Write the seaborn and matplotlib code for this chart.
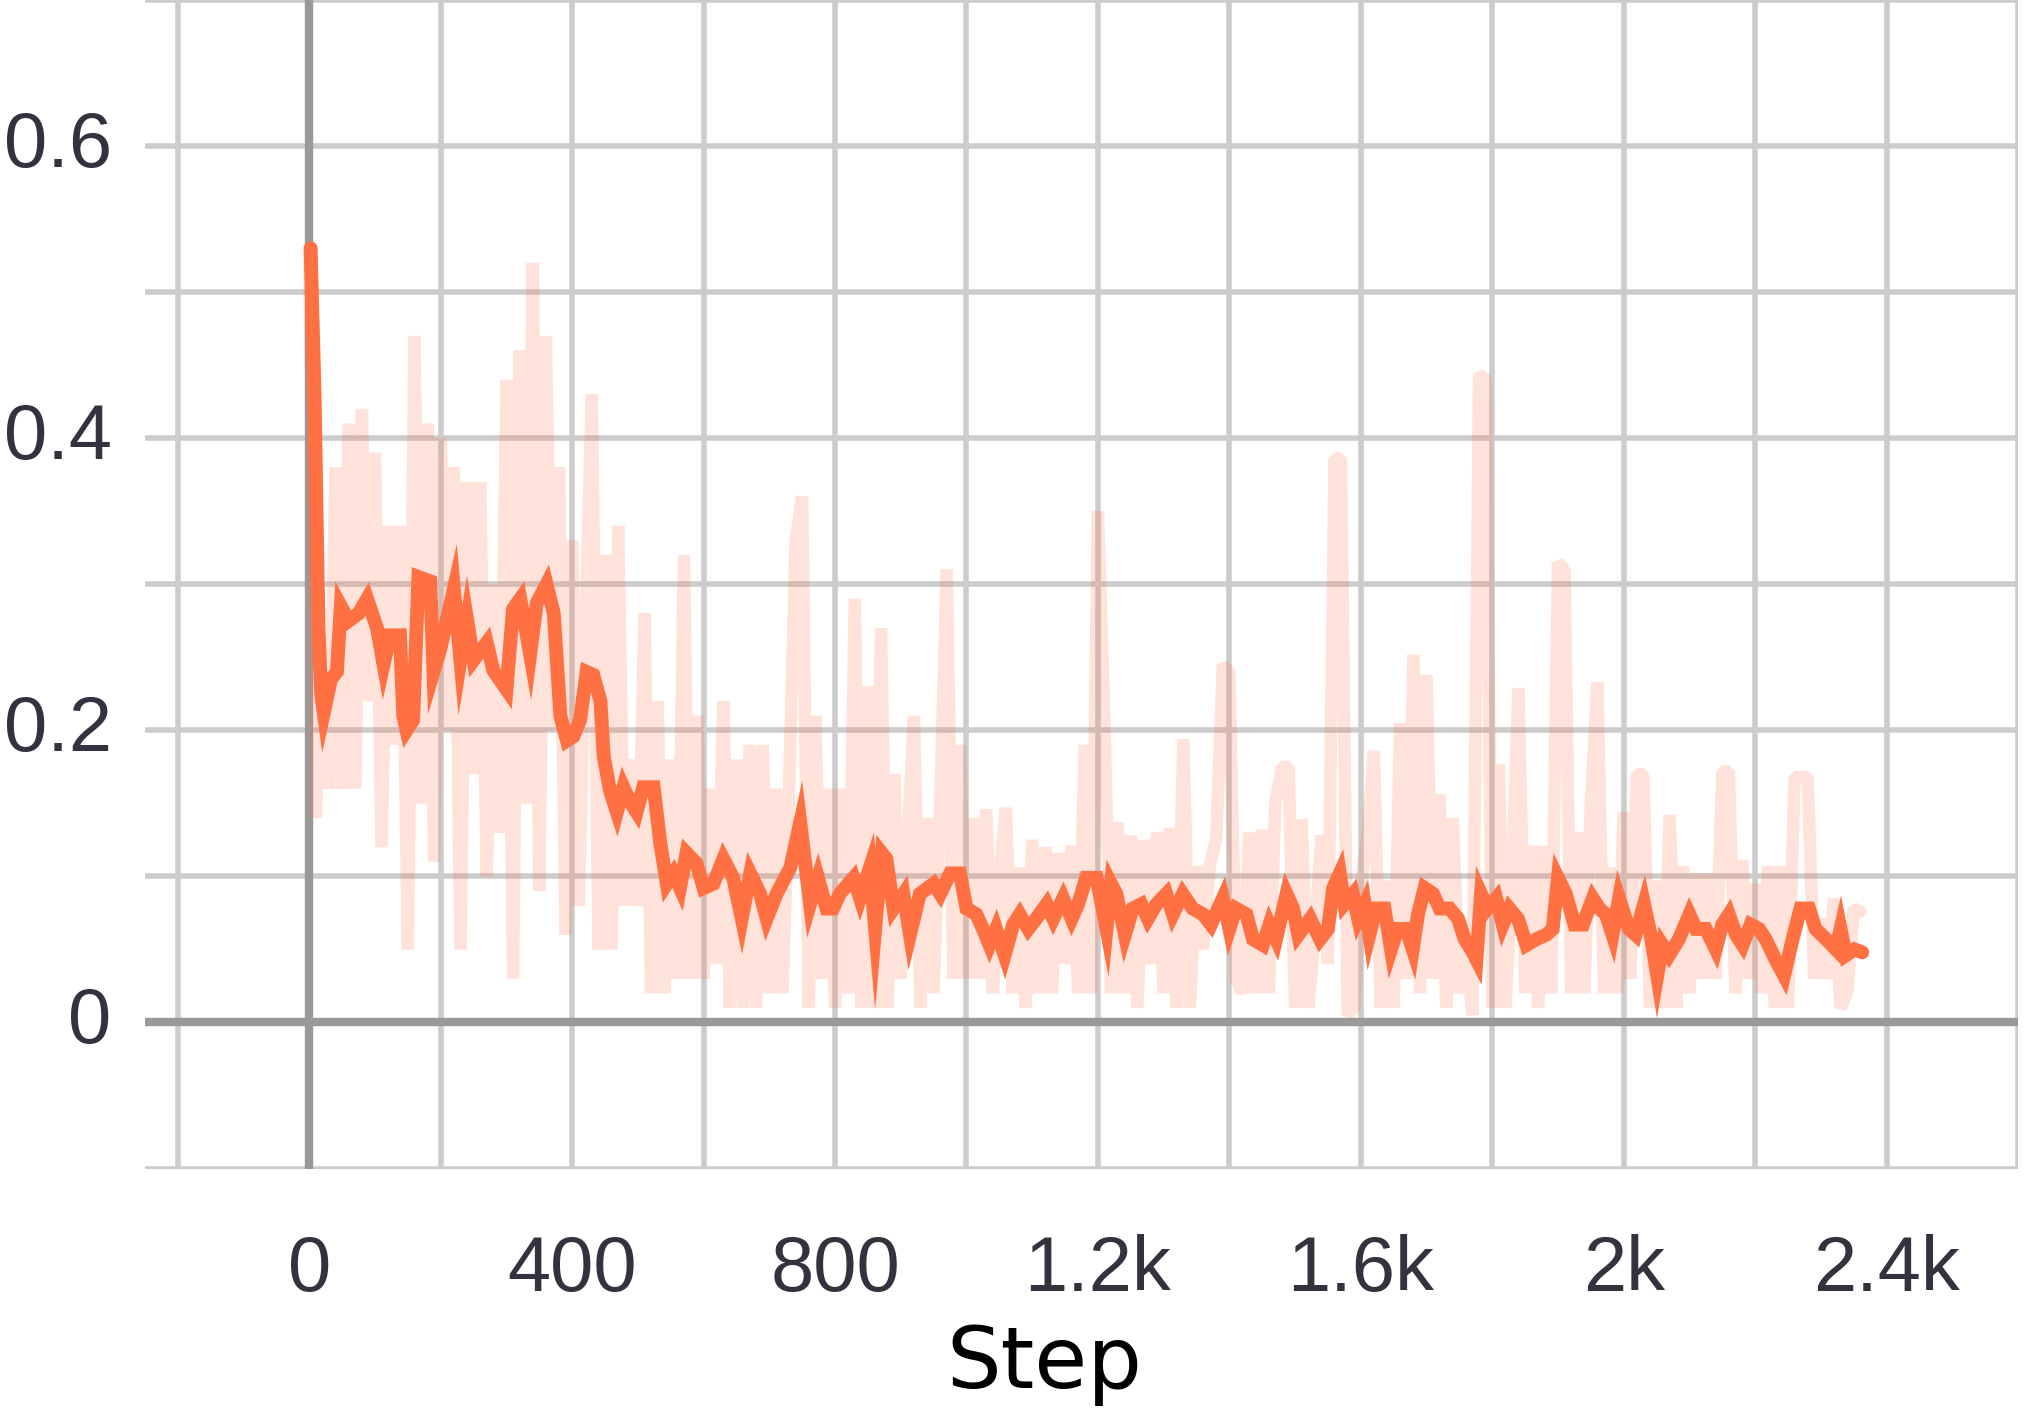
import numpy as np
import matplotlib
matplotlib.use("Agg")
import matplotlib.pyplot as plt
import seaborn as sns

# ---------------- data ----------------
raw_steps = list(range(0, 2370, 10))
raw_values = [
    0.53, 0.14, 0.26, 0.16, 0.38, 0.16, 0.41, 0.16, 0.42, 0.22,   # 0-90
    0.39, 0.12, 0.34, 0.19, 0.34, 0.05, 0.47, 0.15, 0.41, 0.11,   # 100-190
    0.40, 0.20, 0.38, 0.05, 0.37, 0.17, 0.37, 0.10, 0.30, 0.13,   # 200-290
    0.44, 0.03, 0.46, 0.15, 0.52, 0.09, 0.47, 0.20, 0.38, 0.06,   # 300-390
    0.33, 0.08, 0.27, 0.43, 0.05, 0.32, 0.05, 0.34, 0.08, 0.18,   # 400-490
    0.08, 0.28, 0.02, 0.22, 0.02, 0.18, 0.03, 0.32, 0.03, 0.21,   # 500-590
    0.03, 0.16, 0.04, 0.22, 0.01, 0.18, 0.01, 0.19, 0.01, 0.19,   # 600-690
    0.02, 0.16, 0.02, 0.16, 0.33, 0.36, 0.01, 0.21, 0.03, 0.16,   # 700-790
    0.01, 0.16, 0.02, 0.29, 0.01, 0.23, 0.01, 0.27, 0.01, 0.17,   # 800-890
    0.03, 0.12, 0.21, 0.01, 0.14, 0.02, 0.15, 0.31, 0.03, 0.19,   # 900-990
    0.03, 0.14, 0.03, 0.146, 0.02, 0.10, 0.147, 0.02, 0.106, 0.01,  # 1000-1090
    0.125, 0.02, 0.12, 0.02, 0.116, 0.04, 0.121, 0.02, 0.19, 0.02,  # 1100-1190
    0.35, 0.205, 0.02, 0.137, 0.02, 0.128, 0.01, 0.125, 0.04, 0.13,  # 1200-1290
    0.02, 0.133, 0.01, 0.194, 0.01, 0.107, 0.05, 0.107, 0.126, 0.245,  # 1300-1390
    0.24, 0.03, 0.02, 0.13, 0.02, 0.132, 0.02, 0.15, 0.175, 0.175,  # 1400-1490
    0.01, 0.139, 0.01, 0.06, 0.128, 0.04, 0.386, 0.386, 0.005, 0.01,  # 1500-1590
    0.092, 0.128, 0.186, 0.01, 0.097, 0.01, 0.205, 0.03, 0.252, 0.02,  # 1600-1690
    0.238, 0.03, 0.156, 0.01, 0.14, 0.02, 0.05, 0.005, 0.444, 0.44,  # 1700-1790
    0.01, 0.177, 0.01, 0.095, 0.229, 0.02, 0.121, 0.01, 0.121, 0.02,  # 1800-1890
    0.315, 0.31, 0.02, 0.13, 0.02, 0.149, 0.233, 0.02, 0.106, 0.02,  # 1900-1990
    0.144, 0.03, 0.17, 0.17, 0.01, 0.097, 0.01, 0.142, 0.01, 0.107,  # 2000-2090
    0.02, 0.102, 0.03, 0.102, 0.03, 0.172, 0.172, 0.02, 0.111, 0.03,  # 2100-2190
    0.095, 0.02, 0.107, 0.01, 0.107, 0.01, 0.168, 0.168, 0.168, 0.03,  # 2200-2290
    0.071, 0.03, 0.085, 0.01, 0.02, 0.078, 0.076,                     # 2300-2360
]

smooth_steps = [
    2, 8, 14, 18, 22, 33, 42, 48, 60, 75, 88, 103, 113, 123, 138, 143, 148, 158,
    166, 184, 189, 199, 220, 230, 240, 250, 270, 280, 300, 310, 321, 336, 346,
    361, 372, 382, 392, 402, 412, 422, 432, 443, 448, 458, 468, 478, 488, 498,
    508, 524, 534, 544, 554, 564, 574, 589, 600, 615, 630, 645, 658, 671, 686,
    696, 711, 732, 747, 762, 774, 787, 797, 807, 828, 838, 853, 861, 871, 878,
    889, 904, 914, 929, 950, 960, 975, 990, 1000, 1015, 1025, 1035, 1045, 1058,
    1071, 1081, 1094, 1106, 1122, 1132, 1147, 1160, 1170, 1182, 1198, 1213,
    1220, 1228, 1241, 1253, 1266, 1276, 1289, 1304, 1314, 1329, 1344, 1360,
    1372, 1390, 1400, 1410, 1426, 1436, 1451, 1461, 1471, 1487, 1497, 1505,
    1523, 1538, 1550, 1558, 1568, 1575, 1588, 1596, 1606, 1613, 1623, 1636,
    1646, 1656, 1669, 1679, 1687, 1697, 1710, 1720, 1735, 1748, 1758, 1768,
    1776, 1783, 1793, 1806, 1816, 1826, 1839, 1852, 1867, 1882, 1892, 1900,
    1912, 1925, 1938, 1953, 1963, 1973, 1983, 1993, 2008, 2018, 2031, 2041,
    2051, 2059, 2069, 2084, 2100, 2110, 2125, 2140, 2150, 2160, 2171, 2181,
    2193, 2206, 2216, 2231, 2244, 2257, 2269, 2282, 2292, 2308, 2323, 2330,
    2338, 2351, 2363,
]
smooth_values = [
    0.53, 0.43, 0.27, 0.225, 0.212, 0.235, 0.24, 0.285, 0.275, 0.28, 0.29, 0.27,
    0.245, 0.265, 0.265, 0.21, 0.2, 0.207, 0.305, 0.302, 0.24, 0.255, 0.297,
    0.248, 0.276, 0.248, 0.26, 0.241, 0.228, 0.283, 0.29, 0.252, 0.287, 0.30,
    0.28, 0.21, 0.193, 0.196, 0.207, 0.24, 0.238, 0.22, 0.182, 0.158, 0.144,
    0.161, 0.151, 0.144, 0.161, 0.161, 0.123, 0.095, 0.102, 0.092, 0.116,
    0.109, 0.092, 0.095, 0.112, 0.099, 0.071, 0.102, 0.088, 0.071, 0.088,
    0.106, 0.137, 0.081, 0.099, 0.078, 0.078, 0.088, 0.099, 0.085, 0.106,
    0.064, 0.116, 0.112, 0.078, 0.088, 0.06, 0.088, 0.095, 0.088, 0.102,
    0.102, 0.078, 0.074, 0.064, 0.053, 0.064, 0.046, 0.067, 0.074, 0.064,
    0.071, 0.081, 0.071, 0.085, 0.071, 0.081, 0.099, 0.099, 0.064, 0.095,
    0.088, 0.06, 0.078, 0.081, 0.071, 0.081, 0.088, 0.074, 0.088, 0.078,
    0.074, 0.067, 0.085, 0.064, 0.078, 0.074, 0.057, 0.053, 0.067, 0.057,
    0.088, 0.078, 0.06, 0.071, 0.057, 0.064, 0.092, 0.102, 0.081, 0.088,
    0.071, 0.081, 0.06, 0.078, 0.078, 0.05, 0.064, 0.064, 0.05, 0.074, 0.092,
    0.088, 0.078, 0.078, 0.071, 0.057, 0.05, 0.043, 0.088, 0.078, 0.085,
    0.067, 0.078, 0.071, 0.053, 0.057, 0.06, 0.064, 0.099, 0.088, 0.067,
    0.067, 0.085, 0.078, 0.074, 0.06, 0.085, 0.064, 0.06, 0.081, 0.06, 0.032,
    0.053, 0.046, 0.057, 0.074, 0.064, 0.064, 0.05, 0.067, 0.074, 0.06, 0.053,
    0.067, 0.064, 0.057, 0.043, 0.032, 0.057, 0.078, 0.078, 0.064, 0.057,
    0.05, 0.064, 0.046, 0.05, 0.048,
]

x_grid = list(range(-200, 2601, 200))
x_labels = {0: "0", 400: "400", 800: "800", 1200: "1.2k", 1600: "1.6k",
            2000: "2k", 2400: "2.4k"}
y_grid = [-0.1, 0.0, 0.1, 0.2, 0.3, 0.4, 0.5, 0.6, 0.7]
y_labels = {0.0: "0", 0.2: "0.2", 0.4: "0.4", 0.6: "0.6"}

# ---------------- plot ----------------
sns.set_style("white")
plt.rcParams["font.family"] = ["Liberation Sans", "DejaVu Sans"]

W, H = 2027, 1409
fig = plt.figure(figsize=(W / 100, H / 100), dpi=100)
ax = fig.add_axes([145 / W, 1 - 1168.5 / H, (2018 - 145) / W, 1168.5 / H])

line_color = "#ff7043"
sns.lineplot(x=raw_steps, y=raw_values, color=line_color, alpha=0.2,
             ax=ax, sort=False, estimator=None, zorder=3)
raw_line = ax.lines[-1]
sns.lineplot(x=smooth_steps, y=smooth_values, color=line_color,
             ax=ax, sort=False, estimator=None, zorder=4)
smooth_line = ax.lines[-1]
raw_line.set_linewidth(9.0)
raw_line.set_solid_joinstyle("bevel")
smooth_line.set_linewidth(10.0)
smooth_line.set_solid_joinstyle("miter")

ax.set_xlim(-250, 2600)
ax.set_ylim(-0.1, 0.7)

ax.set_xticks(x_grid)
ax.set_xticklabels([x_labels.get(v, "") for v in x_grid])
ax.set_yticks(y_grid)
ax.set_yticklabels([y_labels.get(round(v, 1), "") for v in y_grid])
for t in ax.get_yticklabels():
    t.set_verticalalignment("center")

ax.grid(True, color="#cccccc", linewidth=4)
ax.set_axisbelow(True)
ax.axhline(0, color="#999999", linewidth=6, zorder=2)
ax.axvline(0, color="#999999", linewidth=6, zorder=2)

for s in ax.spines.values():
    s.set_visible(False)

ax.tick_params(axis="x", length=23, width=4, color="#cccccc", pad=24,
               labelsize=56, labelcolor="#333340")
ax.tick_params(axis="y", length=0, pad=24, labelsize=56, labelcolor="#333340")
ax.set_xlabel("")
ax.set_ylabel("")

fig.text(1044 / W, (H - 1388) / H, "Step", ha="center", va="baseline",
         fontsize=62, color="black", family=["DejaVu Sans"])

fig.savefig("out.png", dpi=100)
